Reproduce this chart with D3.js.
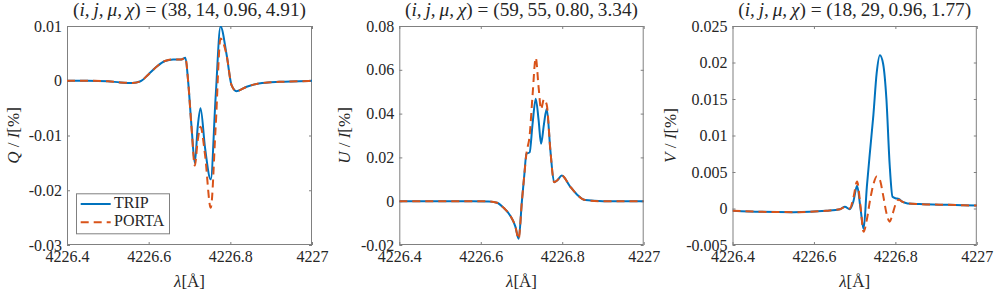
<!DOCTYPE html>
<html>
<head>
<meta charset="utf-8">
<script src="https://cdn.jsdelivr.net/npm/d3@7"></script>
<style>
  html, body { margin: 0; padding: 0; background: #fff; }
  svg { display: block; }
</style>
</head>
<body>
<svg id="chart" width="996" height="293"></svg>
<script>
// ---------- data ----------
const xTicks = [4226.4, 4226.6, 4226.8, 4227];
const xTickLabels = ["4226.4", "4226.6", "4226.8", "4227"];

// Panel 1: Q/I
const lamQ = [4226.40, 4226.45, 4226.50, 4226.53, 4226.56, 4226.58, 4226.60, 4226.62, 4226.64, 4226.66,
              4226.68, 4226.69, 4226.697, 4226.705, 4226.713, 4226.720, 4226.727, 4226.738, 4226.752, 4226.764,
              4226.776, 4226.791, 4226.803, 4226.815, 4226.84, 4226.87, 4226.92, 4226.97, 4227.00];
const qTrip = [0, 0, -0.0001, -0.0003, -0.0004, -0.0001, 0.0012, 0.0026, 0.0036, 0.0039,
               0.0039, 0.0042, -0.0004, -0.0084, -0.0150, -0.0085, -0.0050, -0.0122, -0.0180, -0.0030,
               0.0099, 0.0047, -0.0008, -0.0019, -0.0011, -0.0005, -0.0002, -0.0001, 0];
const qPorta = [0, 0, -0.0001, -0.0003, -0.0004, -0.0001, 0.0012, 0.0026, 0.0036, 0.0039,
                0.0039, 0.0042, -0.0004, -0.0086, -0.0155, -0.0110, -0.0084, -0.0135, -0.0232, -0.0085,
                0.0077, 0.0046, -0.0008, -0.0019, -0.0011, -0.0005, -0.0002, -0.0001, 0];
const qTicks = [-0.03, -0.02, -0.01, 0, 0.01];
const qTickLabels = ["-0.03", "-0.02", "-0.01", "0", "0.01"];

// Panel 2: U/I
const lamU = [4226.40, 4226.50, 4226.58, 4226.62, 4226.64, 4226.656, 4226.672, 4226.685, 4226.693, 4226.701,
              4226.707, 4226.712, 4226.720, 4226.727, 4226.735, 4226.742, 4226.748, 4226.755, 4226.762, 4226.771,
              4226.780, 4226.788, 4226.799, 4226.819, 4226.836, 4226.857, 4226.90, 4227.00];
const uTrip = [0, 0, 0, -0.0001, -0.0007, -0.0030, -0.0065, -0.0116, -0.0172, 0.0,
               0.0122, 0.0216, 0.0223, 0.0350, 0.0468, 0.0370, 0.0262, 0.0350, 0.0422, 0.0230,
               0.0087, 0.0096, 0.0117, 0.0068, 0.0031, 0.0005, 0, 0];
const uPorta = [0, 0, 0, -0.0001, -0.0007, -0.0030, -0.0065, -0.0116, -0.0172, 0.0,
                0.0122, 0.0216, 0.0300, 0.0480, 0.0655, 0.0520, 0.0420, 0.0465, 0.0440, 0.0230,
                0.0087, 0.0096, 0.0117, 0.0068, 0.0031, 0.0005, 0, 0];
const uTicks = [-0.02, 0, 0.02, 0.04, 0.06, 0.08];
const uTickLabels = ["-0.02", "0", "0.02", "0.04", "0.06", "0.08"];

// Panel 3: V/I
const lamV = [4226.40, 4226.47, 4226.55, 4226.63, 4226.664, 4226.676, 4226.688, 4226.697, 4226.706, 4226.714,
              4226.722, 4226.730, 4226.738, 4226.746, 4226.754, 4226.762, 4226.770, 4226.778, 4226.786, 4226.793,
              4226.800, 4226.808, 4226.818, 4226.830, 4226.86, 4226.93, 4227.00];
const vTrip = [-0.0003, -0.00045, -0.0005, -0.0003, -0.0001, 0.00025, -0.0001, 0.0010, 0.0031, 0.0002,
               -0.0028, 0.0030, 0.0080, 0.0128, 0.0185, 0.0210, 0.0198, 0.0150, 0.0060, 0.0016,
               0.0014, 0.0013, 0.0009, 0.0007, 0.0006, 0.0005, 0.0004];
const vPorta = [-0.0003, -0.00045, -0.0005, -0.0003, -0.0001, 0.0002, 0.0, 0.0015, 0.0037, 0.0005,
                -0.0032, -0.0015, 0.0012, 0.0033, 0.0044, 0.0039, 0.0018, -0.0006, -0.0018, -0.0008,
                0.0005, 0.0012, 0.0009, 0.0007, 0.0006, 0.0005, 0.0004];
const vTicks = [-0.005, 0, 0.005, 0.01, 0.015, 0.02, 0.025];
const vTickLabels = ["-0.005", "0", "0.005", "0.01", "0.015", "0.02", "0.025"];

const titles = [
  {vars: "i,\u2009j,\u2009μ,\u2009χ", vals: "38,\u200914,\u20090.96,\u20094.91"},
  {vars: "i,\u2009j,\u2009μ,\u2009χ", vals: "59,\u200955,\u20090.80,\u20093.34"},
  {vars: "i,\u2009j,\u2009μ,\u2009χ", vals: "18,\u200929,\u20090.96,\u20091.77"}
];
const yLetters = ["Q", "U", "V"];
const seriesNames = ["TRIP", "PORTA"];

// ---------- layout ----------
const FONT = "'Liberation Serif', 'Times New Roman', 'DejaVu Serif', serif";
const COLORS = ["#0072BD", "#D95319"];
const panels = [
  {left: 67,    right: 312,   lam: lamQ, trip: qTrip, porta: qPorta, yDom: [-0.03, 0.01],   ticks: qTicks, labels: qTickLabels, ylabX: -48},
  {left: 399.3, right: 643.7, lam: lamU, trip: uTrip, porta: uPorta, yDom: [-0.02, 0.08],   ticks: uTicks, labels: uTickLabels, ylabX: -49},
  {left: 732.5, right: 976.8, lam: lamV, trip: vTrip, porta: vPorta, yDom: [-0.005, 0.025], ticks: vTicks, labels: vTickLabels, ylabX: -56.5}
];
const TOP = 26, BOTTOM = 245;
const AX = "#808080";

const svg = d3.select("#chart");
const defs = svg.append("defs");

function txt(sel, size) {
  return sel.style("font-family", FONT).style("font-size", size + "px").style("fill", "#262626");
}

panels.forEach((p, k) => {
  const w = p.right - p.left, h = BOTTOM - TOP;
  const x = d3.scaleLinear().domain([4226.4, 4227]).range([0, w]);
  const y = d3.scaleLinear().domain(p.yDom).range([h, 0]);
  const g = svg.append("g").attr("transform", `translate(${p.left},${TOP})`);

  defs.append("clipPath").attr("id", "clip" + k)
    .append("rect").attr("x", 0).attr("y", 0).attr("width", w).attr("height", h);

  // axes with inward ticks
  const fmtX = d => xTickLabels[xTicks.indexOf(d)];
  const fmtY = d => p.labels[p.ticks.indexOf(d)];
  const axB = g.append("g").attr("transform", `translate(0,${h})`)
    .call(d3.axisBottom(x).tickValues(xTicks).tickFormat(fmtX).tickSizeInner(-3).tickSizeOuter(0).tickPadding(5.5));
  const axT = g.append("g")
    .call(d3.axisTop(x).tickValues(xTicks).tickFormat(() => "").tickSizeInner(-3).tickSizeOuter(0));
  const axL = g.append("g")
    .call(d3.axisLeft(y).tickValues(p.ticks).tickFormat(fmtY).tickSizeInner(-3).tickSizeOuter(0).tickPadding(5));
  const axR = g.append("g").attr("transform", `translate(${w},0)`)
    .call(d3.axisRight(y).tickValues(p.ticks).tickFormat(() => "").tickSizeInner(-3).tickSizeOuter(0));
  [axB, axT, axL, axR].forEach(a => {
    a.select(".domain").remove();
    a.selectAll("line").attr("stroke", AX).attr("stroke-width", 1);
    txt(a.selectAll("text"), 16);
  });

  // box
  g.append("rect").attr("x", 0.5).attr("y", 0.5).attr("width", w - 1).attr("height", h - 1)
    .attr("fill", "none").attr("stroke", AX).attr("stroke-width", 1);

  // lines
  const line = d3.line().x(d => x(d[0])).y(d => y(d[1])).curve(d3.curveMonotoneX);
  const plot = g.append("g").attr("clip-path", `url(#clip${k})`);
  plot.append("path").datum(p.lam.map((l, i) => [l, p.trip[i]]))
    .attr("d", line).attr("fill", "none").attr("stroke", COLORS[0]).attr("stroke-width", 2)
    .attr("stroke-linejoin", "round");
  plot.append("path").datum(p.lam.map((l, i) => [l, p.porta[i]]))
    .attr("d", line).attr("fill", "none").attr("stroke", COLORS[1]).attr("stroke-width", 2)
    .attr("stroke-dasharray", "8,5");

  // title
  const t = txt(svg.append("text"), 17).attr("x", (p.left + p.right) / 2).attr("y", 16)
    .attr("text-anchor", "middle");
  t.append("tspan").text("(");
  t.append("tspan").style("font-style", "italic").text(titles[k].vars);
  t.append("tspan").text(") = (" + titles[k].vals + ")");
  const len = t.node().getComputedTextLength();
  t.style("font-size", (17 * 233 / len) + "px");

  // x label
  const xl = txt(svg.append("text"), 17).attr("x", (p.left + p.right) / 2).attr("y", 287)
    .attr("text-anchor", "middle");
  xl.append("tspan").style("font-style", "italic").text("λ");
  xl.append("tspan").text("[Å]");

  // y label
  const yl = txt(svg.append("text"), 17)
    .attr("transform", `translate(${p.left + p.ylabX},${(TOP + BOTTOM) / 2}) rotate(-90)`)
    .attr("text-anchor", "middle");
  yl.append("tspan").style("font-style", "italic").text(yLetters[k]);
  yl.append("tspan").text(" / ");
  yl.append("tspan").style("font-style", "italic").text("I");
  yl.append("tspan").text("[%]");
});

// legend (first panel)
const lg = svg.append("g").attr("transform", "translate(76,193.3)");
lg.append("rect").attr("x", 0.5).attr("y", 0.5).attr("width", 93).attr("height", 40)
  .attr("fill", "#fff").attr("stroke", AX).attr("stroke-width", 1);
seriesNames.forEach((name, i) => {
  const yy = 10.7 + i * 18.3;
  lg.append("line").attr("x1", 4.7).attr("x2", 34.7).attr("y1", yy).attr("y2", yy)
    .attr("stroke", COLORS[i]).attr("stroke-width", 2)
    .attr("stroke-dasharray", i === 1 ? "8,5" : null);
  txt(lg.append("text"), 16).attr("x", 38).attr("y", yy + 4.2).text(name);
});
</script>
</body>
</html>
